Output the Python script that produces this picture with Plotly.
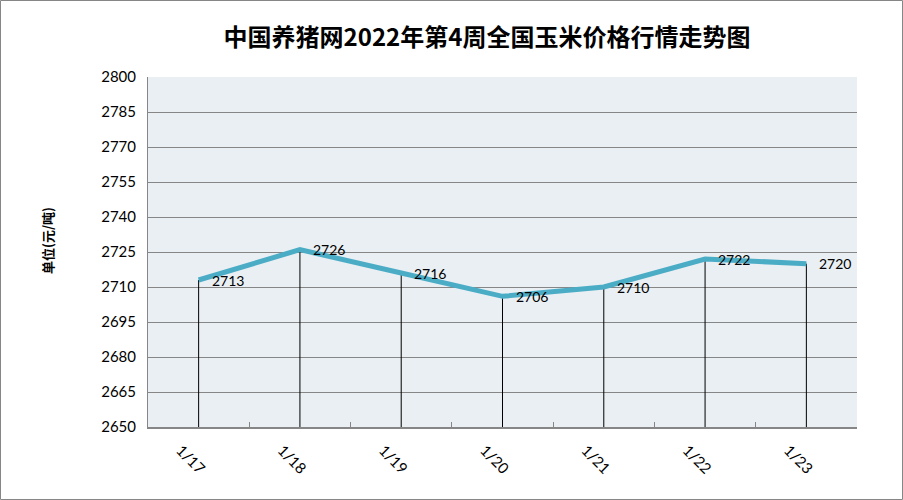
import plotly.graph_objects as go

dates = ["1/17", "1/18", "1/19", "1/20", "1/21", "1/22", "1/23"]
prices = [2713, 2726, 2716, 2706, 2710, 2722, 2720]
y_min, y_max, y_step = 2650, 2800, 15
title_text = "中国养猪网2022年第4周全国玉米价格行情走势图"
y_title = "单位(元/吨)"

W, H = 903, 500
L, R, T, B = 148, 46, 77, 73
pw, ph = W - L - R, H - T - B

fig = go.Figure()
fig.add_trace(go.Scatter(
    x=dates, y=prices, mode="lines",
    line=dict(color="#4BACC6", width=5),
    error_y=dict(type="data", symmetric=False,
                 array=[0] * len(prices),
                 arrayminus=[v - y_min for v in prices],
                 color="#000000", thickness=1, width=0),
    hoverinfo="x+y", showlegend=False,
))

label_font = dict(family="Lato, Carlito, sans-serif", size=14, color="#000000")
annotations = [dict(x=d, y=v, xref="x", yref="y", text=str(v), showarrow=False,
                    xanchor="left", yanchor="middle", xshift=11, yshift=0,
                    font=label_font)
               for d, v in zip(dates, prices)]
annotations.append(dict(text="<b>" + y_title + "</b>", xref="paper", yref="paper",
                        x=-(L - 48) / pw, y=(427 - 241) / ph, showarrow=False,
                        textangle=-90, xanchor="center", yanchor="middle",
                        font=dict(family="Noto Sans CJK SC", size=13, color="#000000")))

fig.update_layout(
    width=W, height=H,
    margin=dict(l=L, r=R, t=T, b=B),
    paper_bgcolor="#FFFFFF", plot_bgcolor="#E9EFF3",
    title=dict(text="<b>" + title_text + "</b>", x=487 / W, xanchor="center",
               y=1 - 38 / H, yanchor="middle",
               font=dict(family="Noto Sans CJK SC", size=24, color="#000000")),
    font=dict(family="Lato, Carlito, sans-serif", color="#000000"),
    shapes=[dict(type="rect", xref="paper", yref="paper",
                 x0=-(L - 0.5) / pw, x1=(W - L - 0.5) / pw,
                 y0=-(B - 0.5) / ph, y1=(ph + T - 0.5) / ph,
                 line=dict(color="#868686", width=1), fillcolor="rgba(0,0,0,0)",
                 layer="below")],
    annotations=annotations,
)

fig.update_xaxes(
    type="category", tickangle=45, showgrid=False,
    showline=True, linecolor="#868686", linewidth=1.5,
    ticks="inside", tickson="boundaries", ticklen=5, tickcolor="#868686",
    tickfont=dict(family="Lato, Carlito, sans-serif", size=15, color="#000000"),
    ticklabelshift=-18, ticklabelstandoff=7,
    range=[-0.5, len(dates) - 0.5], fixedrange=True,
)
fig.update_yaxes(
    range=[y_min, y_max], dtick=y_step, tick0=y_min,
    showgrid=True, gridcolor="#868686", gridwidth=1,
    showline=True, linecolor="#868686", linewidth=1,
    ticks="", zeroline=False,
    tickfont=dict(family="Lato, Carlito, sans-serif", size=15, color="#000000"),
    ticklabelstandoff=8, fixedrange=True,
)

fig.write_html("out.html", config={"displayModeBar": False},
               post_script="document.body.style.margin='0';document.body.style.overflow='hidden';")
